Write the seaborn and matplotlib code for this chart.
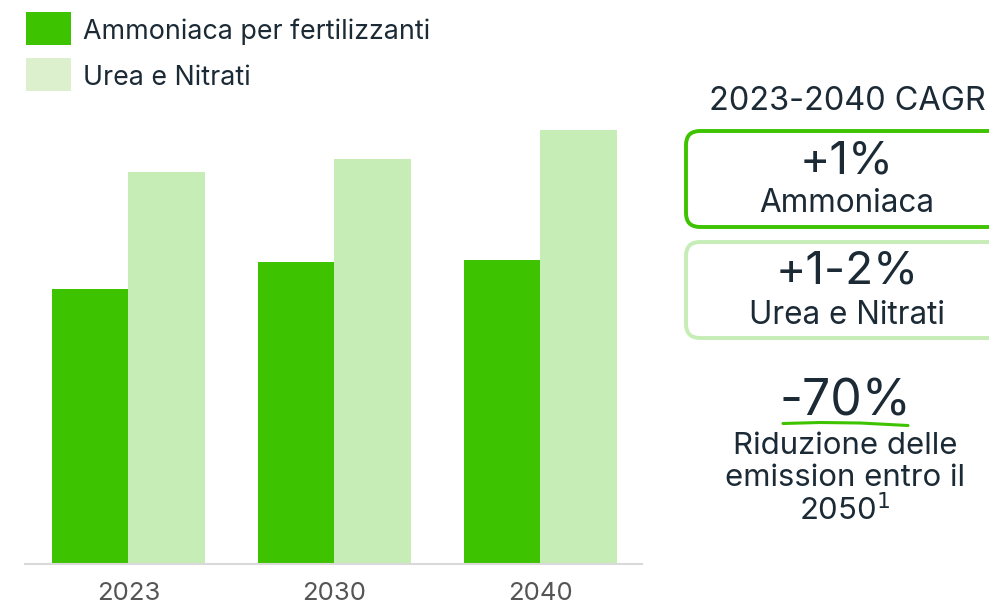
import matplotlib
matplotlib.use("Agg")
import matplotlib.pyplot as plt
import seaborn as sns
import pandas as pd
from matplotlib.patches import FancyBboxPatch, Rectangle

# ---- data ----
years = ["2023", "2030", "2040"]
series_names = ["Ammoniaca per fertilizzanti", "Urea e Nitrati"]
ammoniaca = [274.5, 301.5, 303.5]
urea_nitrati = [391.5, 404.5, 433.5]
colors = ["#3EC300", "#C5EDB5"]
legend_colors = ["#3EC300", "#DDF0CD"]
cagr_title = "2023-2040 CAGR"
cagr_values = ["+1%", "+1-2%"]
cagr_labels = ["Ammoniaca", "Urea e Nitrati"]
reduction_value = "-70%"
reduction_lines = ["Riduzione delle", "emission entro il"]

df = pd.DataFrame({
    "year": years * 2,
    "serie": [series_names[0]] * 3 + [series_names[1]] * 3,
    "value": ammoniaca + urea_nitrati,
})

sns.set_theme(style="white")
FONT = ["Inter", "DejaVu Sans"]
plt.rcParams["font.family"] = FONT
TXT = "#1B2A35"

W, H = 989, 603
fig = plt.figure(figsize=(W / 100, H / 100), dpi=100)

# main axes in pixel placement
left_px, right_px, bottom_px, top_px = 25, 642, 563.5, 83.5
ax = fig.add_axes([left_px / W, 1 - bottom_px / H, (right_px - left_px) / W, (bottom_px - top_px) / H])
sns.barplot(data=df, x="year", y="value", hue="serie", palette=colors, width=0.74,
            saturation=1, ax=ax, legend=False, linewidth=0)
ax.set_ylim(0, bottom_px - top_px)
ax.set_xlim(-0.502, 2.493)
ax.set_xlabel("")
ax.set_ylabel("")
ax.set_yticks([])
for s in ["top", "right", "left"]:
    ax.spines[s].set_visible(False)
ax.spines["bottom"].set_color("#D9D9D9")
ax.spines["bottom"].set_linewidth(1.5)
ax.tick_params(axis="x", length=0, pad=13, labelsize=18.5, labelcolor="#555555")

# overlay axes in pixel coordinates
ov = fig.add_axes([0, 0, 1, 1], facecolor="none")
ov.set_xlim(0, W)
ov.set_ylim(H, 0)
ov.axis("off")

# legend
for i, (name, c) in enumerate(zip(series_names, legend_colors)):
    y0 = 12 + i * 46
    ov.add_patch(Rectangle((26, y0), 45, 33, facecolor=c, edgecolor="none"))
    ov.text(83, y0 + 20, name, fontsize=19.3, color=TXT, va="center", ha="left")

# right panel
cx = 847
ov.text(cx, 101, cagr_title, fontsize=23.4, color=TXT, ha="center", va="center")
box_colors = ["#3EC300", "#C5EDB5"]
box_tops = [131, 242]
for top, bc, val, lab in zip(box_tops, box_colors, cagr_values, cagr_labels):
    ov.add_patch(FancyBboxPatch((686 + 14, top + 14), 340 - 28, 96 - 28,
                                boxstyle="round,pad=14", facecolor="white",
                                edgecolor=bc, linewidth=2.8, clip_on=False))
    ov.text(cx, top + 30, val, fontsize=33, color=TXT, ha="center", va="center")
    ov.text(cx, top + 73, lab, fontsize=22.7, color=TXT, ha="center", va="center")

ov.text(845, 402, reduction_value, fontsize=36, color=TXT, ha="center", va="center")
ov.plot([783, 820, 860, 908], [423.5, 422.5, 423, 425.5], color="#3EC300", lw=2.2,
        solid_capstyle="round")
for j, line in enumerate(reduction_lines):
    ov.text(845, 446 + j * 32, line, fontsize=22.4, color=TXT, ha="center", va="center")
ov.text(845, 510, "2050$^{1}$", fontsize=22.4, color=TXT, ha="center", va="center")

fig.savefig("out.png", dpi=100)
